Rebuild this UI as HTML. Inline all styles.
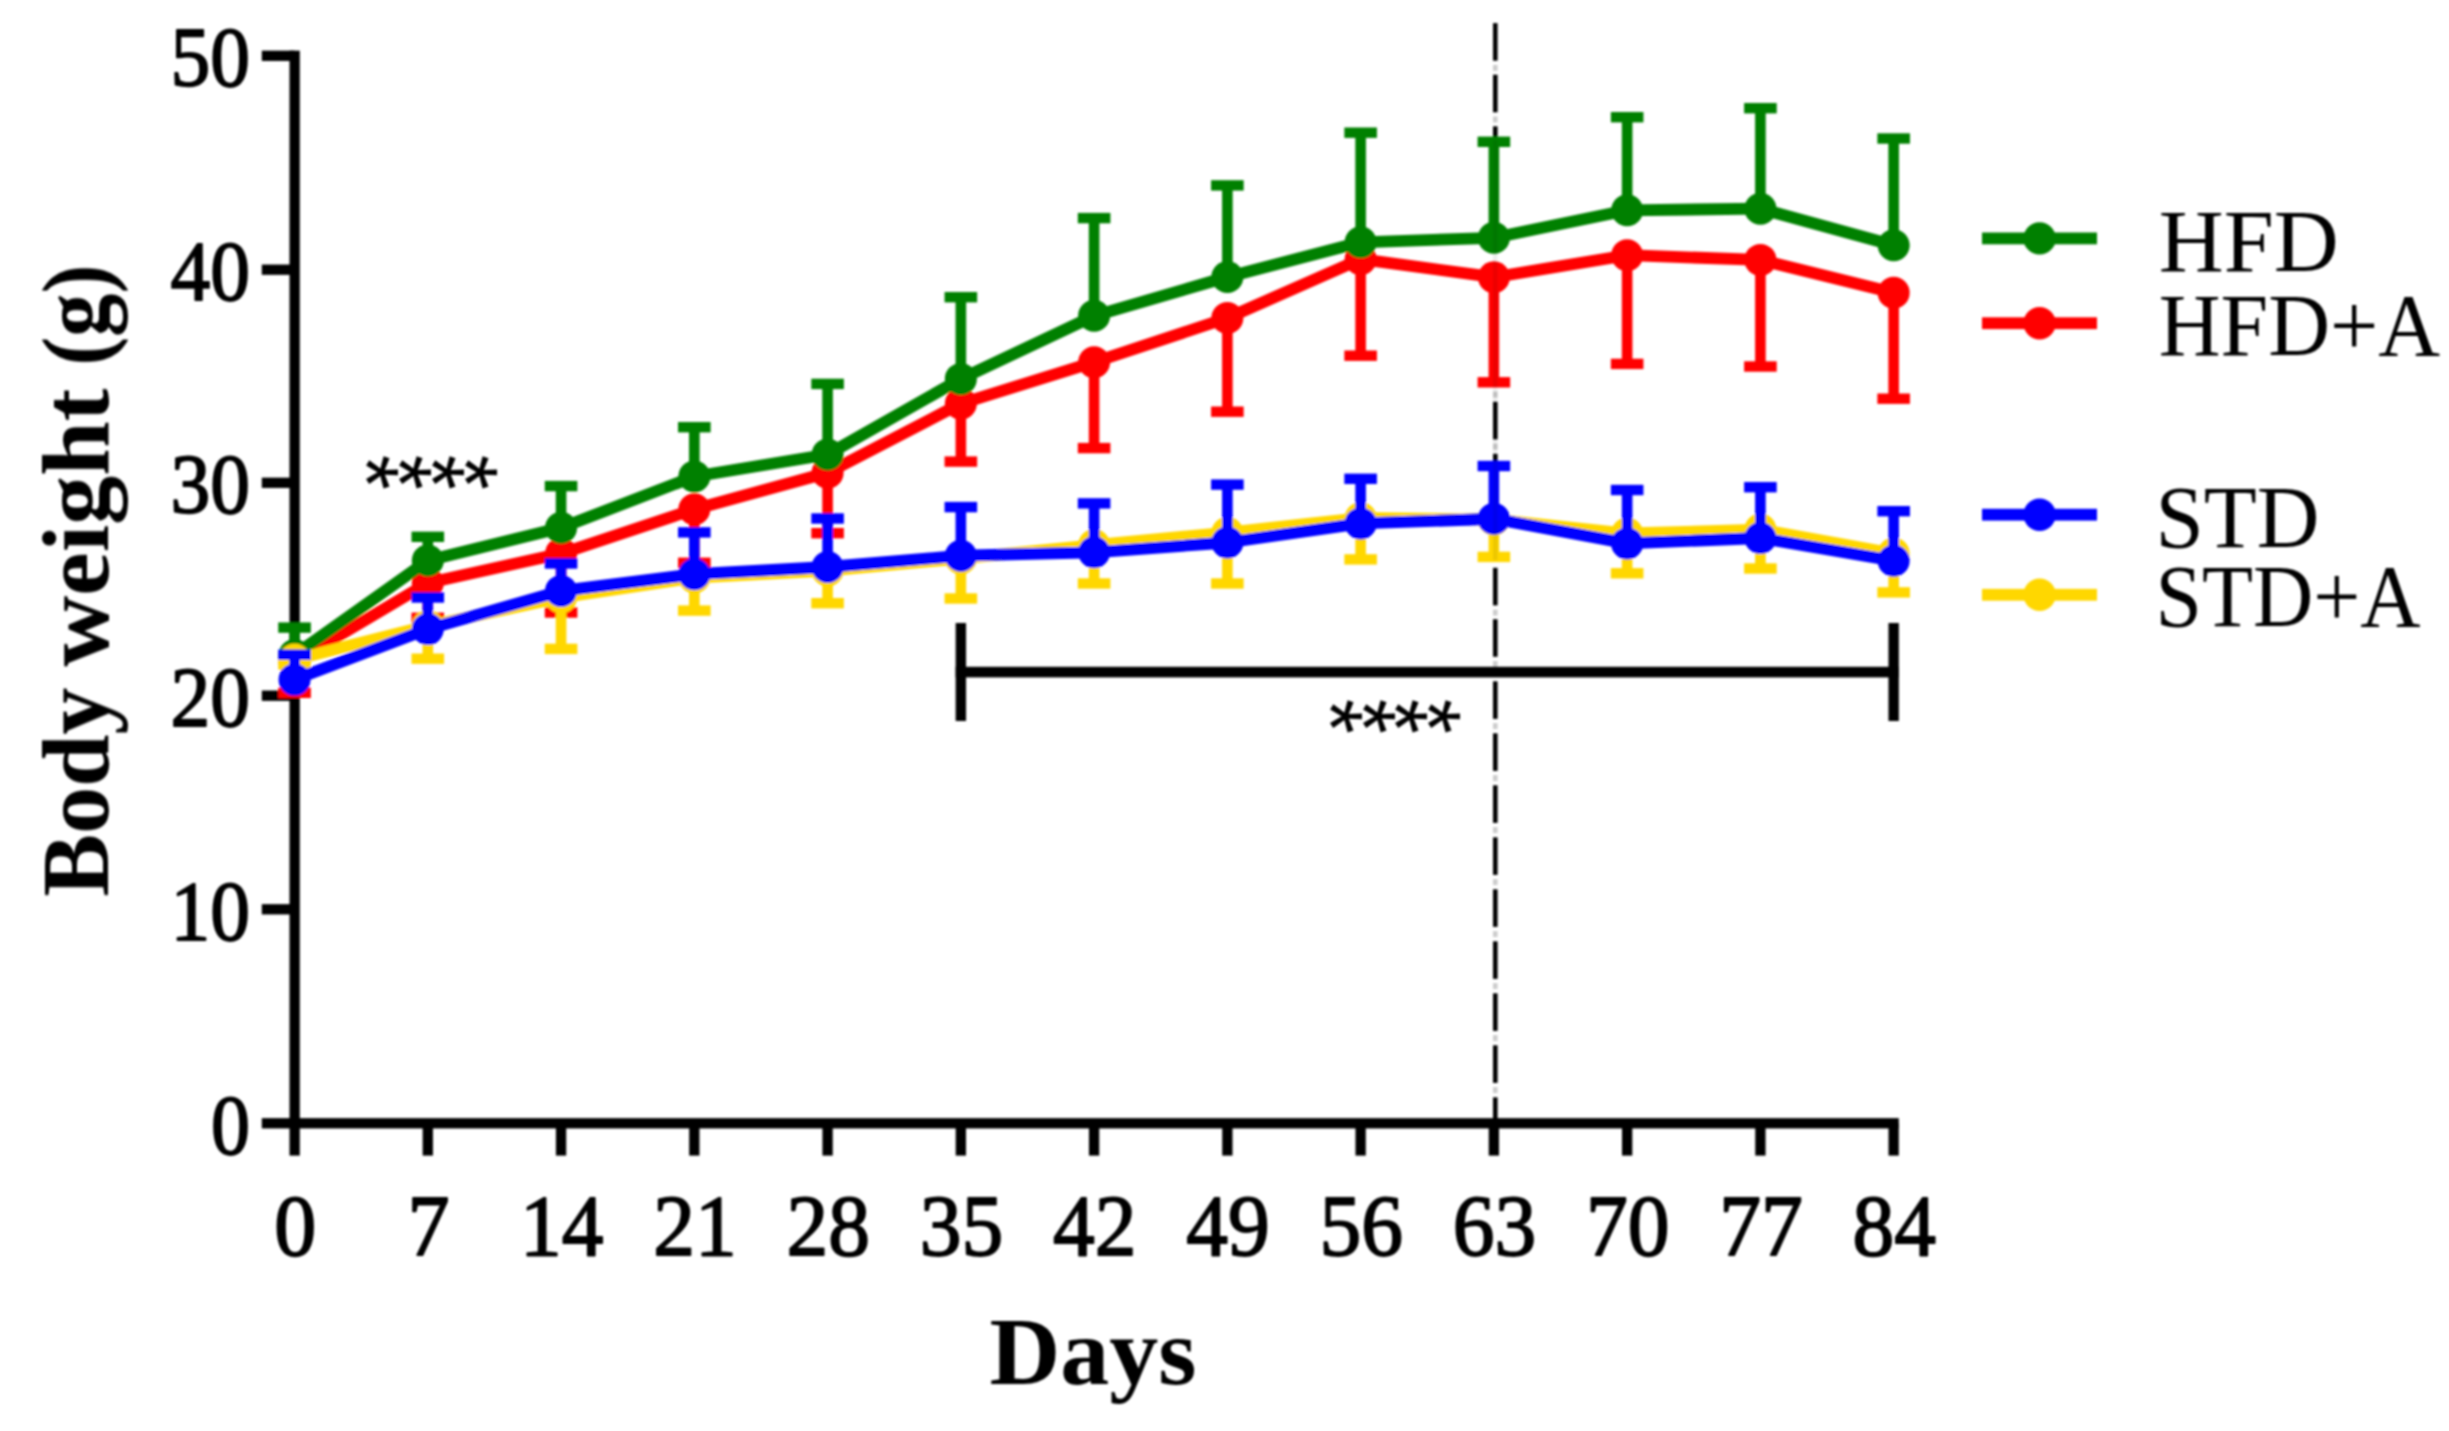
<!DOCTYPE html>
<html lang="en">
<head>
<meta charset="utf-8">
<title>Body weight</title>
<style>
html,body{margin:0;padding:0;background:#fff;}
body{width:2449px;height:1431px;overflow:hidden;}
svg{display:block;}
text{font-family:'Liberation Serif', serif;fill:#000;}
.b{font-weight:bold;}
</style>
</head>
<body>
<svg width="2449" height="1431" viewBox="0 0 2449 1431">
<defs><filter id="soft" x="0" y="0" width="2449" height="1431" filterUnits="userSpaceOnUse"><feGaussianBlur stdDeviation="0.9"/></filter></defs>
<rect x="0" y="0" width="2449" height="1431" fill="#fff"/>
<g filter="url(#soft)">
<g>
<rect x="1493.00" y="23.10" width="4.6" height="37.60" fill="#000"/>
<rect x="1493.00" y="64.90" width="4.6" height="6.00" fill="#000" opacity="0.2"/>
<rect x="1493.00" y="74.70" width="4.6" height="37.60" fill="#000"/>
<rect x="1493.00" y="116.50" width="4.6" height="6.00" fill="#000" opacity="0.2"/>
<rect x="1493.00" y="126.30" width="4.6" height="13.70" fill="#000"/>
<rect x="1493.00" y="391.60" width="4.6" height="6.00" fill="#000" opacity="0.2"/>
<rect x="1493.00" y="401.80" width="4.6" height="37.60" fill="#000"/>
<rect x="1493.00" y="443.60" width="4.6" height="6.00" fill="#000" opacity="0.2"/>
<rect x="1493.00" y="453.80" width="4.6" height="16.20" fill="#000"/>
<rect x="1493.00" y="567.80" width="4.6" height="37.60" fill="#000"/>
<rect x="1493.00" y="609.60" width="4.6" height="6.00" fill="#000" opacity="0.2"/>
<rect x="1493.00" y="619.20" width="4.6" height="37.60" fill="#000"/>
<rect x="1493.00" y="661.00" width="4.6" height="6.00" fill="#000" opacity="0.2"/>
<rect x="1493.00" y="681.30" width="4.6" height="37.60" fill="#000"/>
<rect x="1493.00" y="723.10" width="4.6" height="6.00" fill="#000" opacity="0.2"/>
<rect x="1493.00" y="733.30" width="4.6" height="37.60" fill="#000"/>
<rect x="1493.00" y="775.10" width="4.6" height="6.00" fill="#000" opacity="0.2"/>
<rect x="1493.00" y="785.30" width="4.6" height="37.60" fill="#000"/>
<rect x="1493.00" y="827.10" width="4.6" height="6.00" fill="#000" opacity="0.2"/>
<rect x="1493.00" y="837.30" width="4.6" height="37.60" fill="#000"/>
<rect x="1493.00" y="879.10" width="4.6" height="6.00" fill="#000" opacity="0.2"/>
<rect x="1493.00" y="889.30" width="4.6" height="37.60" fill="#000"/>
<rect x="1493.00" y="931.10" width="4.6" height="6.00" fill="#000" opacity="0.2"/>
<rect x="1493.00" y="941.30" width="4.6" height="37.60" fill="#000"/>
<rect x="1493.00" y="983.10" width="4.6" height="6.00" fill="#000" opacity="0.2"/>
<rect x="1493.00" y="993.30" width="4.6" height="37.60" fill="#000"/>
<rect x="1493.00" y="1035.10" width="4.6" height="6.00" fill="#000" opacity="0.2"/>
<rect x="1493.00" y="1045.30" width="4.6" height="37.60" fill="#000"/>
<rect x="1493.00" y="1087.10" width="4.6" height="6.00" fill="#000" opacity="0.2"/>
<rect x="1493.00" y="1097.30" width="4.6" height="22.70" fill="#000"/>
</g>
<g fill="#000">
<rect x="289.50" y="50.65" width="10.3" height="1104.95"/>
<rect x="261.8" y="1118.15" width="1637.02" height="10.3"/>
<rect x="261.8" y="904.15" width="32.75" height="10.3"/>
<rect x="261.8" y="690.55" width="32.75" height="10.3"/>
<rect x="261.8" y="477.65" width="32.75" height="10.3"/>
<rect x="261.8" y="264.55" width="32.75" height="10.3"/>
<rect x="261.8" y="50.65" width="32.75" height="10.3"/>
<rect x="422.66" y="1123.3" width="10.3" height="32.30"/>
<rect x="555.92" y="1123.3" width="10.3" height="32.30"/>
<rect x="689.18" y="1123.3" width="10.3" height="32.30"/>
<rect x="822.44" y="1123.3" width="10.3" height="32.30"/>
<rect x="955.70" y="1123.3" width="10.3" height="32.30"/>
<rect x="1088.96" y="1123.3" width="10.3" height="32.30"/>
<rect x="1222.22" y="1123.3" width="10.3" height="32.30"/>
<rect x="1355.48" y="1123.3" width="10.3" height="32.30"/>
<rect x="1488.74" y="1123.3" width="10.3" height="32.30"/>
<rect x="1622.00" y="1123.3" width="10.3" height="32.30"/>
<rect x="1755.26" y="1123.3" width="10.3" height="32.30"/>
<rect x="1888.52" y="1123.3" width="10.3" height="32.30"/>
</g>
<g font-size="85" text-anchor="end" stroke="#000" stroke-width="1.8" stroke-linejoin="round">
<text x="250" y="1153.6" textLength="39" lengthAdjust="spacingAndGlyphs">0</text>
<text x="250" y="939.6" textLength="79.5" lengthAdjust="spacingAndGlyphs">10</text>
<text x="250" y="726.0" textLength="79.5" lengthAdjust="spacingAndGlyphs">20</text>
<text x="250" y="513.1" textLength="79.5" lengthAdjust="spacingAndGlyphs">30</text>
<text x="250" y="300.0" textLength="79.5" lengthAdjust="spacingAndGlyphs">40</text>
<text x="250" y="86.1" textLength="79.5" lengthAdjust="spacingAndGlyphs">50</text>
</g>
<g font-size="87" text-anchor="middle" stroke="#000" stroke-width="1.8" stroke-linejoin="round">
<text x="295.2" y="1254.5" textLength="42" lengthAdjust="spacingAndGlyphs">0</text>
<text x="428.4" y="1254.5" textLength="42" lengthAdjust="spacingAndGlyphs">7</text>
<text x="561.7" y="1254.5" textLength="83.5" lengthAdjust="spacingAndGlyphs">14</text>
<text x="694.9" y="1254.5" textLength="83.5" lengthAdjust="spacingAndGlyphs">21</text>
<text x="828.2" y="1254.5" textLength="83.5" lengthAdjust="spacingAndGlyphs">28</text>
<text x="961.4" y="1254.5" textLength="83.5" lengthAdjust="spacingAndGlyphs">35</text>
<text x="1094.7" y="1254.5" textLength="83.5" lengthAdjust="spacingAndGlyphs">42</text>
<text x="1228.0" y="1254.5" textLength="83.5" lengthAdjust="spacingAndGlyphs">49</text>
<text x="1361.2" y="1254.5" textLength="83.5" lengthAdjust="spacingAndGlyphs">56</text>
<text x="1494.5" y="1254.5" textLength="83.5" lengthAdjust="spacingAndGlyphs">63</text>
<text x="1627.7" y="1254.5" textLength="83.5" lengthAdjust="spacingAndGlyphs">70</text>
<text x="1761.0" y="1254.5" textLength="83.5" lengthAdjust="spacingAndGlyphs">77</text>
<text x="1894.3" y="1254.5" textLength="83.5" lengthAdjust="spacingAndGlyphs">84</text>
</g>
<text class="b" font-size="96" x="989.5" y="1383.6" textLength="207" lengthAdjust="spacingAndGlyphs">Days</text>
<g class="b" font-size="96" transform="translate(108,894.6) rotate(-90)">
<text x="-2" y="0" textLength="209" lengthAdjust="spacingAndGlyphs">Body</text>
<text x="228" y="0" textLength="278" lengthAdjust="spacingAndGlyphs">weight</text>
<text x="529" y="0" textLength="101" lengthAdjust="spacingAndGlyphs">(g)</text>
</g>
<g fill="#FF0000" stroke="none">
<rect x="289.25" y="662.00" width="10.6" height="30.80"/>
<rect x="278.25" y="687.60" width="32.6" height="10.4"/>
<rect x="422.51" y="583.00" width="10.6" height="34.80"/>
<rect x="411.51" y="612.60" width="32.6" height="10.4"/>
<rect x="555.77" y="553.60" width="10.6" height="58.90"/>
<rect x="544.77" y="607.30" width="32.6" height="10.4"/>
<rect x="689.03" y="509.30" width="10.6" height="53.50"/>
<rect x="678.03" y="557.60" width="32.6" height="10.4"/>
<rect x="822.29" y="472.80" width="10.6" height="60.40"/>
<rect x="811.29" y="528.00" width="32.6" height="10.4"/>
<rect x="955.55" y="403.60" width="10.6" height="58.00"/>
<rect x="944.55" y="456.40" width="32.6" height="10.4"/>
<rect x="1088.81" y="362.20" width="10.6" height="85.90"/>
<rect x="1077.81" y="442.90" width="32.6" height="10.4"/>
<rect x="1222.07" y="318.00" width="10.6" height="93.70"/>
<rect x="1211.07" y="406.50" width="32.6" height="10.4"/>
<rect x="1355.33" y="259.20" width="10.6" height="96.50"/>
<rect x="1344.33" y="350.50" width="32.6" height="10.4"/>
<rect x="1488.59" y="277.20" width="10.6" height="105.10"/>
<rect x="1477.59" y="377.10" width="32.6" height="10.4"/>
<rect x="1621.85" y="255.20" width="10.6" height="108.70"/>
<rect x="1610.85" y="358.70" width="32.6" height="10.4"/>
<rect x="1755.11" y="259.90" width="10.6" height="106.60"/>
<rect x="1744.11" y="361.30" width="32.6" height="10.4"/>
<rect x="1888.37" y="292.70" width="10.6" height="106.00"/>
<rect x="1877.37" y="393.50" width="32.6" height="10.4"/>
<polyline points="294.55,662.00 427.81,583.00 561.07,553.60 694.33,509.30 827.59,472.80 960.85,403.60 1094.11,362.20 1227.37,318.00 1360.63,259.20 1493.89,277.20 1627.15,255.20 1760.41,259.90 1893.67,292.70" fill="none" stroke="#FF0000" stroke-width="11.8" stroke-linejoin="round"/>
<circle cx="294.55" cy="662.00" r="16.0"/>
<circle cx="427.81" cy="583.00" r="16.0"/>
<circle cx="561.07" cy="553.60" r="16.0"/>
<circle cx="694.33" cy="509.30" r="16.0"/>
<circle cx="827.59" cy="472.80" r="16.0"/>
<circle cx="960.85" cy="403.60" r="16.0"/>
<circle cx="1094.11" cy="362.20" r="16.0"/>
<circle cx="1227.37" cy="318.00" r="16.0"/>
<circle cx="1360.63" cy="259.20" r="16.0"/>
<circle cx="1493.89" cy="277.20" r="16.0"/>
<circle cx="1627.15" cy="255.20" r="16.0"/>
<circle cx="1760.41" cy="259.90" r="16.0"/>
<circle cx="1893.67" cy="292.70" r="16.0"/>
</g>
<g fill="#008000" stroke="none">
<rect x="289.25" y="627.60" width="10.6" height="27.40"/>
<rect x="278.25" y="622.40" width="32.6" height="10.4"/>
<rect x="422.51" y="536.80" width="10.6" height="23.70"/>
<rect x="411.51" y="531.60" width="32.6" height="10.4"/>
<rect x="555.77" y="486.10" width="10.6" height="41.70"/>
<rect x="544.77" y="480.90" width="32.6" height="10.4"/>
<rect x="689.03" y="427.20" width="10.6" height="49.30"/>
<rect x="678.03" y="422.00" width="32.6" height="10.4"/>
<rect x="822.29" y="383.90" width="10.6" height="70.60"/>
<rect x="811.29" y="378.70" width="32.6" height="10.4"/>
<rect x="955.55" y="297.20" width="10.6" height="81.70"/>
<rect x="944.55" y="292.00" width="32.6" height="10.4"/>
<rect x="1088.81" y="218.10" width="10.6" height="97.70"/>
<rect x="1077.81" y="212.90" width="32.6" height="10.4"/>
<rect x="1222.07" y="185.40" width="10.6" height="91.60"/>
<rect x="1211.07" y="180.20" width="32.6" height="10.4"/>
<rect x="1355.33" y="132.70" width="10.6" height="109.60"/>
<rect x="1344.33" y="127.50" width="32.6" height="10.4"/>
<rect x="1488.59" y="141.80" width="10.6" height="96.00"/>
<rect x="1477.59" y="136.60" width="32.6" height="10.4"/>
<rect x="1621.85" y="117.20" width="10.6" height="93.10"/>
<rect x="1610.85" y="112.00" width="32.6" height="10.4"/>
<rect x="1755.11" y="108.20" width="10.6" height="100.50"/>
<rect x="1744.11" y="103.00" width="32.6" height="10.4"/>
<rect x="1888.37" y="138.50" width="10.6" height="106.70"/>
<rect x="1877.37" y="133.30" width="32.6" height="10.4"/>
<polyline points="294.55,655.00 427.81,560.50 561.07,527.80 694.33,476.50 827.59,454.50 960.85,378.90 1094.11,315.80 1227.37,277.00 1360.63,242.30 1493.89,237.80 1627.15,210.30 1760.41,208.70 1893.67,245.20" fill="none" stroke="#008000" stroke-width="11.8" stroke-linejoin="round"/>
<circle cx="294.55" cy="655.00" r="16.0"/>
<circle cx="427.81" cy="560.50" r="16.0"/>
<circle cx="561.07" cy="527.80" r="16.0"/>
<circle cx="694.33" cy="476.50" r="16.0"/>
<circle cx="827.59" cy="454.50" r="16.0"/>
<circle cx="960.85" cy="378.90" r="16.0"/>
<circle cx="1094.11" cy="315.80" r="16.0"/>
<circle cx="1227.37" cy="277.00" r="16.0"/>
<circle cx="1360.63" cy="242.30" r="16.0"/>
<circle cx="1493.89" cy="237.80" r="16.0"/>
<circle cx="1627.15" cy="210.30" r="16.0"/>
<circle cx="1760.41" cy="208.70" r="16.0"/>
<circle cx="1893.67" cy="245.20" r="16.0"/>
</g>
<g fill="#FFD700" stroke="none">
<rect x="289.25" y="659.50" width="10.6" height="5.00"/>
<rect x="278.25" y="659.30" width="32.6" height="10.4"/>
<rect x="422.51" y="626.00" width="10.6" height="32.70"/>
<rect x="411.51" y="653.50" width="32.6" height="10.4"/>
<rect x="555.77" y="597.50" width="10.6" height="51.40"/>
<rect x="544.77" y="643.70" width="32.6" height="10.4"/>
<rect x="689.03" y="577.50" width="10.6" height="33.10"/>
<rect x="678.03" y="605.40" width="32.6" height="10.4"/>
<rect x="822.29" y="570.50" width="10.6" height="32.70"/>
<rect x="811.29" y="598.00" width="32.6" height="10.4"/>
<rect x="955.55" y="558.50" width="10.6" height="40.00"/>
<rect x="944.55" y="593.30" width="32.6" height="10.4"/>
<rect x="1088.81" y="545.00" width="10.6" height="38.50"/>
<rect x="1077.81" y="578.30" width="32.6" height="10.4"/>
<rect x="1222.07" y="532.70" width="10.6" height="50.80"/>
<rect x="1211.07" y="578.30" width="32.6" height="10.4"/>
<rect x="1355.33" y="518.00" width="10.6" height="41.40"/>
<rect x="1344.33" y="554.20" width="32.6" height="10.4"/>
<rect x="1488.59" y="519.50" width="10.6" height="37.40"/>
<rect x="1477.59" y="551.70" width="32.6" height="10.4"/>
<rect x="1621.85" y="533.50" width="10.6" height="39.80"/>
<rect x="1610.85" y="568.10" width="32.6" height="10.4"/>
<rect x="1755.11" y="529.60" width="10.6" height="38.90"/>
<rect x="1744.11" y="563.30" width="32.6" height="10.4"/>
<rect x="1888.37" y="553.50" width="10.6" height="38.90"/>
<rect x="1877.37" y="587.20" width="32.6" height="10.4"/>
<polyline points="294.55,659.50 427.81,626.00 561.07,597.50 694.33,577.50 827.59,570.50 960.85,558.50 1094.11,545.00 1227.37,532.70 1360.63,518.00 1493.89,519.50 1627.15,533.50 1760.41,529.60 1893.67,553.50" fill="none" stroke="#FFD700" stroke-width="11.8" stroke-linejoin="round"/>
<circle cx="294.55" cy="659.50" r="16.0"/>
<circle cx="427.81" cy="626.00" r="16.0"/>
<circle cx="561.07" cy="597.50" r="16.0"/>
<circle cx="694.33" cy="577.50" r="16.0"/>
<circle cx="827.59" cy="570.50" r="16.0"/>
<circle cx="960.85" cy="558.50" r="16.0"/>
<circle cx="1094.11" cy="545.00" r="16.0"/>
<circle cx="1227.37" cy="532.70" r="16.0"/>
<circle cx="1360.63" cy="518.00" r="16.0"/>
<circle cx="1493.89" cy="519.50" r="16.0"/>
<circle cx="1627.15" cy="533.50" r="16.0"/>
<circle cx="1760.41" cy="529.60" r="16.0"/>
<circle cx="1893.67" cy="553.50" r="16.0"/>
</g>
<g fill="#0000FF" stroke="none">
<rect x="289.25" y="654.70" width="10.6" height="24.90"/>
<rect x="278.25" y="649.50" width="32.6" height="10.4"/>
<rect x="422.51" y="597.50" width="10.6" height="31.60"/>
<rect x="411.51" y="592.30" width="32.6" height="10.4"/>
<rect x="555.77" y="563.50" width="10.6" height="27.40"/>
<rect x="544.77" y="558.30" width="32.6" height="10.4"/>
<rect x="689.03" y="532.40" width="10.6" height="41.80"/>
<rect x="678.03" y="527.20" width="32.6" height="10.4"/>
<rect x="822.29" y="518.50" width="10.6" height="48.50"/>
<rect x="811.29" y="513.30" width="32.6" height="10.4"/>
<rect x="955.55" y="507.10" width="10.6" height="48.60"/>
<rect x="944.55" y="501.90" width="32.6" height="10.4"/>
<rect x="1088.81" y="503.40" width="10.6" height="48.90"/>
<rect x="1077.81" y="498.20" width="32.6" height="10.4"/>
<rect x="1222.07" y="484.60" width="10.6" height="57.90"/>
<rect x="1211.07" y="479.40" width="32.6" height="10.4"/>
<rect x="1355.33" y="478.80" width="10.6" height="44.60"/>
<rect x="1344.33" y="473.60" width="32.6" height="10.4"/>
<rect x="1488.59" y="466.00" width="10.6" height="52.80"/>
<rect x="1477.59" y="460.80" width="32.6" height="10.4"/>
<rect x="1621.85" y="490.00" width="10.6" height="53.40"/>
<rect x="1610.85" y="484.80" width="32.6" height="10.4"/>
<rect x="1755.11" y="487.20" width="10.6" height="50.80"/>
<rect x="1744.11" y="482.00" width="32.6" height="10.4"/>
<rect x="1888.37" y="511.20" width="10.6" height="49.50"/>
<rect x="1877.37" y="506.00" width="32.6" height="10.4"/>
<polyline points="294.55,679.60 427.81,629.10 561.07,590.90 694.33,574.20 827.59,567.00 960.85,555.70 1094.11,552.30 1227.37,542.50 1360.63,523.40 1493.89,518.80 1627.15,543.40 1760.41,538.00 1893.67,560.70" fill="none" stroke="#0000FF" stroke-width="11.8" stroke-linejoin="round"/>
<circle cx="294.55" cy="679.60" r="16.0"/>
<circle cx="427.81" cy="629.10" r="16.0"/>
<circle cx="561.07" cy="590.90" r="16.0"/>
<circle cx="694.33" cy="574.20" r="16.0"/>
<circle cx="827.59" cy="567.00" r="16.0"/>
<circle cx="960.85" cy="555.70" r="16.0"/>
<circle cx="1094.11" cy="552.30" r="16.0"/>
<circle cx="1227.37" cy="542.50" r="16.0"/>
<circle cx="1360.63" cy="523.40" r="16.0"/>
<circle cx="1493.89" cy="518.80" r="16.0"/>
<circle cx="1627.15" cy="543.40" r="16.0"/>
<circle cx="1760.41" cy="538.00" r="16.0"/>
<circle cx="1893.67" cy="560.70" r="16.0"/>
</g>
<rect x="1493.00" y="140" width="4.6" height="420" fill="#000" opacity="0.07"/>
<g fill="#000">
<rect x="955.65" y="666.8" width="943.22" height="10.6"/>
<rect x="955.65" y="623" width="10.4" height="98"/>
<rect x="1888.47" y="623" width="10.4" height="98"/>
</g>
<text style="font-family:'Liberation Sans', sans-serif" font-size="90" x="335.4 368.2 401.0 433.8" y="454.7" rotate="90">****</text>
<text style="font-family:'Liberation Sans', sans-serif" font-size="90" x="1298.7 1331.5 1364.3 1397.1" y="698.7" rotate="90">****</text>
<rect x="1982" y="232.50" width="115" height="11.8" fill="#008000"/>
<circle cx="2039.6" cy="238.4" r="16.2" fill="#008000"/>
<text font-size="88.5" x="2158.7" y="271" textLength="180" lengthAdjust="spacingAndGlyphs">HFD</text>
<rect x="1982" y="317.30" width="115" height="11.8" fill="#FF0000"/>
<circle cx="2039.6" cy="323.2" r="16.2" fill="#FF0000"/>
<text font-size="88.5" x="2158.7" y="354.6" textLength="281.5" lengthAdjust="spacingAndGlyphs">HFD+A</text>
<rect x="1982" y="508.80" width="115" height="11.8" fill="#0000FF"/>
<circle cx="2039.6" cy="514.7" r="16.2" fill="#0000FF"/>
<text font-size="88.5" x="2155.5" y="546.8" textLength="164" lengthAdjust="spacingAndGlyphs">STD</text>
<rect x="1982" y="588.90" width="115" height="11.8" fill="#FFD700"/>
<circle cx="2039.6" cy="594.8" r="16.2" fill="#FFD700"/>
<text font-size="88.5" x="2155.5" y="626" textLength="265" lengthAdjust="spacingAndGlyphs">STD+A</text>
</g>
</svg>
</body>
</html>
